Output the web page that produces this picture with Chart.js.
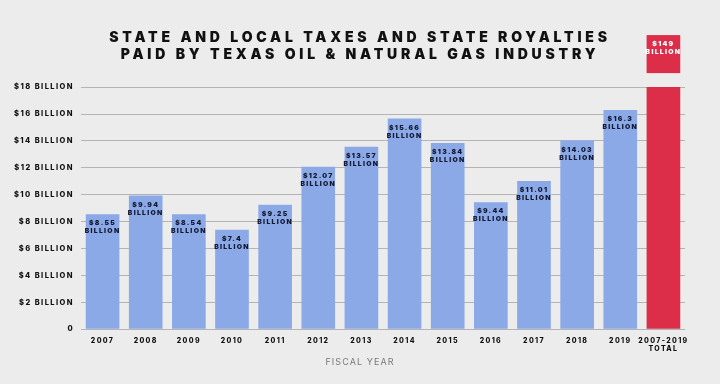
<!DOCTYPE html>
<html>
<head>
<meta charset="utf-8">
<script src="https://cdn.jsdelivr.net/npm/chart.js@4/dist/chart.umd.min.js"></script>
<style>
  html, body { margin: 0; padding: 0; background: #ececec; }
  #wrap { width: 720px; height: 384px; }
</style>
</head>
<body>
<div id="wrap"><canvas id="taxes"></canvas></div>
<script>
var years = ["2007", "2008", "2009", "2010", "2011", "2012", "2013", "2014", "2015", "2016", "2017", "2018", "2019", ["2007-2019", "TOTAL"]];
var paid = [8.55, 9.94, 8.54, 7.4, 9.25, 12.07, 13.57, 15.66, 13.84, 9.44, 11.01, 14.03, 16.3, 149];
var yTicks = [0, 2, 4, 6, 8, 10, 12, 14, 16, 18];
var titleLines = ["STATE AND LOCAL TAXES AND STATE ROYALTIES", "PAID BY TEXAS OIL & NATURAL GAS INDUSTRY"];
var axisTitle = "FISCAL YEAR";

var BLUE = "#8aa9e6";
var RED = "#dc2e48";
var NAVY = "#141a33";
var FONT = "Inter, 'DejaVu Sans', sans-serif";

var canvas = document.getElementById("taxes");
var ctxT = canvas.getContext("2d");

// the design uses wide tracking on all text, so hook the font setter
var fontDesc = Object.getOwnPropertyDescriptor(CanvasRenderingContext2D.prototype, "font");
Object.defineProperty(ctxT, "font", {
  get: function() { return fontDesc.get.call(this); },
  set: function(v) {
    fontDesc.set.call(this, v);
    var m = /([\d.]+)px/.exec(v);
    var size = m ? parseFloat(m[1]) : 10;
    var bold = /\b[6-9]00\b|bold/.test(v);
    var ratio = !bold ? 0.12 : (size >= 12 ? 0.27 : 0.19);
    this.letterSpacing = (size * ratio).toFixed(2) + "px";
  }
});

var barLabels = {
  id: "barLabels",
  afterDatasetsDraw: function(chart) {
    var ctx = chart.ctx;
    var meta = chart.getDatasetMeta(0);
    var area = chart.chartArea;
    var yMax = chart.scales.y.max;
    ctx.save();
    ctx.textAlign = "center";
    ctx.textBaseline = "middle";
    meta.data.forEach(function(bar, i) {
      var v = paid[i];
      ctx.font = "900 6.8px " + FONT;
      if (v > yMax) {
        // value runs off the axis: bar is cut and the total sits in its own box
        var w = bar.width;
        var boxBottom = area.top - 14;
        var boxTop = boxBottom - 38;
        ctx.fillStyle = RED;
        ctx.fillRect(bar.x - w / 2, boxTop, w, boxBottom - boxTop);
        ctx.fillStyle = "#ffffff";
        ctx.fillText("$" + v, bar.x, boxTop + 9);
        ctx.fillText("BILLION", bar.x, boxTop + 17);
      } else {
        ctx.fillStyle = NAVY;
        ctx.fillText("$" + v, bar.x, bar.y + 9);
        ctx.fillText("BILLION", bar.x, bar.y + 17);
      }
    });
    ctx.restore();
  }
};

var chart = new Chart(canvas, {
  type: "bar",
  data: {
    labels: years,
    datasets: [
      {
        data: paid,
        backgroundColor: paid.map(function(v, i) { return i === paid.length - 1 ? RED : BLUE; }),
        categoryPercentage: 1,
        barPercentage: 0.78
      }
    ]
  },
  options: {
    responsive: true,
    maintainAspectRatio: false,
    animation: false,
    layout: { padding: 0 },
    plugins: {
      legend: { display: false },
      tooltip: { enabled: false },
      title: {
        display: true,
        text: titleLines,
        color: "#111111",
        font: { family: FONT, size: 14, weight: "900", lineHeight: 1.2 },
        padding: { top: 29.5, bottom: 24 }
      },
      subtitle: {
        display: true,
        position: "bottom",
        text: axisTitle,
        color: "#7a7a7a",
        font: { family: FONT, size: 9, weight: "400" },
        padding: { top: 4, bottom: 16 }
      }
    },
    scales: {
      x: {
        grid: { display: false, drawTicks: false },
        border: { display: false },
        ticks: {
          color: "#111111",
          font: { family: FONT, size: 7, weight: "800", lineHeight: 1.2 },
          maxRotation: 0,
          autoSkip: false,
          padding: 7
        },
        afterFit: function(scale) { scale.height = 24; }
      },
      y: {
        min: 0,
        max: 18,
        afterBuildTicks: function(scale) {
          scale.ticks = yTicks.map(function(v) { return { value: v }; });
        },
        afterFit: function(scale) { scale.width = 81; },
        border: { display: false },
        grid: {
          color: "#b4b4b4",
          lineWidth: 1,
          drawTicks: false
        },
        ticks: {
          color: "#111111",
          font: { family: FONT, size: 7.5, weight: "800" },
          padding: 7,
          callback: function(v) { return v === 0 ? "0" : "$" + v + " BILLION"; }
        }
      },
      // empty right-hand axis, keeps the plot off the right edge while titles stay centred
      yr: {
        position: "right",
        grid: { display: false, drawTicks: false },
        border: { display: false },
        ticks: { display: false },
        afterFit: function(scale) { scale.width = 35; }
      }
    }
  },
  plugins: [barLabels]
});
</script>
</body>
</html>
